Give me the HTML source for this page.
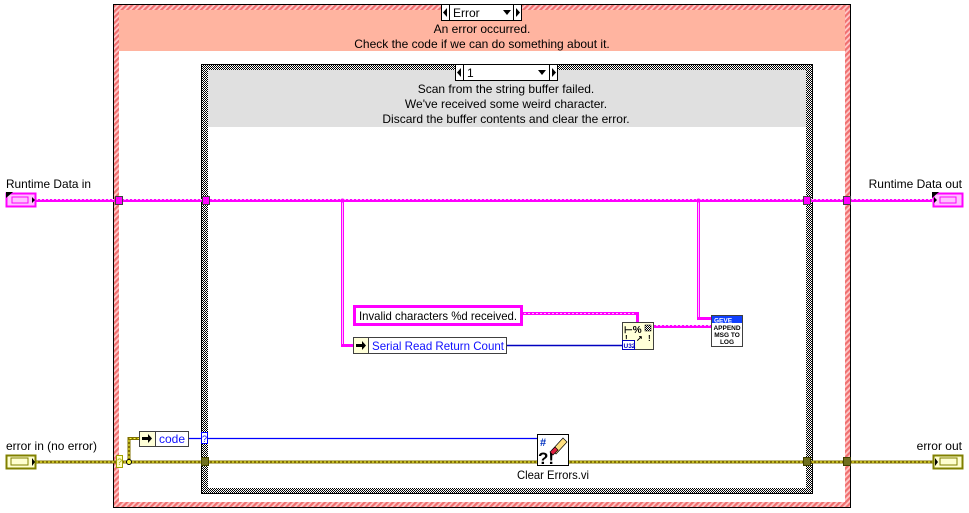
<!DOCTYPE html>
<html><head><meta charset="utf-8"><style>
html,body{margin:0;padding:0;background:#fff;}
svg{display:block;font-family:"Liberation Sans",sans-serif;}
</style></head><body>
<svg width="969" height="513" viewBox="0 0 969 513" xmlns="http://www.w3.org/2000/svg">
<defs>
<pattern id="hatch" width="4" height="4" patternUnits="userSpaceOnUse" patternTransform="rotate(45)">
<rect width="4" height="4" fill="#ffc8c8"/><rect width="2.2" height="4" fill="#f07070"/>
</pattern>
<pattern id="check" width="2" height="2" patternUnits="userSpaceOnUse">
<rect width="2" height="2" fill="#fff"/><rect width="1" height="1" fill="#000"/><rect x="1" y="1" width="1" height="1" fill="#000"/>
</pattern>
<pattern id="pinkw" width="4" height="3" patternUnits="userSpaceOnUse">
<rect width="4" height="3" fill="#ff00ff"/><rect x="0" y="1" width="2" height="1" fill="#ffc0ff"/>
</pattern>
</defs>
<!-- outer case -->
<rect x="113" y="4" width="738" height="504" fill="#000"/>
<rect x="114" y="5" width="736" height="502" fill="url(#hatch)"/>
<rect x="119" y="10" width="726" height="492" fill="#fff"/>
<rect x="119" y="10" width="726" height="41" fill="#ffb4a0"/>
<!-- outer selector -->
<rect x="441.5" y="4.5" width="80" height="16" fill="#fff" stroke="#000"/>
<line x1="449.5" y1="4" x2="449.5" y2="21" stroke="#000"/>
<line x1="513.5" y1="4" x2="513.5" y2="21" stroke="#000"/>
<polygon points="447,8 447,17 443,12.5" fill="#000"/>
<polygon points="516,8 516,17 520,12.5" fill="#000"/>
<polygon points="503,10 511,10 507,15" fill="#000"/>
<text x="453" y="17" font-size="12">Error</text>
<text x="482" y="33" font-size="12" text-anchor="middle">An error occurred.</text>
<text x="482" y="48" font-size="12" text-anchor="middle">Check the code if we can do something about it.</text>
<!-- inner case -->
<rect x="201" y="64" width="612" height="430" fill="#000"/>
<rect x="202" y="65" width="610" height="428" fill="url(#check)"/>
<rect x="208" y="70" width="598" height="418" fill="#fff"/>
<rect x="208" y="70" width="598" height="57" fill="#e0e0e0"/>
<rect x="455.5" y="64.5" width="102" height="16" fill="#fff" stroke="#000"/>
<line x1="463.5" y1="64" x2="463.5" y2="81" stroke="#000"/>
<line x1="549.5" y1="64" x2="549.5" y2="81" stroke="#000"/>
<polygon points="461,68 461,77 457,72.5" fill="#000"/>
<polygon points="552,68 552,77 556,72.5" fill="#000"/>
<polygon points="538,70 546,70 542,75" fill="#000"/>
<text x="467" y="77" font-size="12">1</text>
<text x="506" y="93" font-size="12" text-anchor="middle">Scan from the string buffer failed.</text>
<text x="506" y="108" font-size="12" text-anchor="middle">We've received some weird character.</text>
<text x="506" y="123" font-size="12" text-anchor="middle">Discard the buffer contents and clear the error.</text>
<!-- pink wires -->
<rect x="36" y="199" width="896" height="3" fill="url(#pinkw)"/>
<rect x="341" y="200" width="3" height="147" fill="#ff00ff"/>
<rect x="342" y="200" width="1" height="147" fill="#ffc0ff"/>
<rect x="341" y="344" width="12" height="3" fill="#ff00ff"/>
<rect x="697" y="200" width="3" height="120" fill="#ff00ff"/>
<rect x="698" y="200" width="1" height="120" fill="#ffc0ff"/>
<rect x="697" y="317" width="14" height="3" fill="#ff00ff"/>
<rect x="522" y="312" width="117" height="3" fill="url(#pinkw)"/>
<rect x="636" y="312" width="3" height="10" fill="#ff00ff"/>
<rect x="653" y="325" width="58" height="3" fill="url(#pinkw)"/>
<circle cx="342.5" cy="200.5" r="2" fill="#ff00ff"/>
<circle cx="698.5" cy="200.5" r="2" fill="#ff00ff"/>
<!-- pink tunnels -->
<rect x="115.5" y="196.5" width="7" height="8" fill="#ff00ff" stroke="#404040"/>
<rect x="202.5" y="196.5" width="7" height="8" fill="#ff00ff" stroke="#404040"/>
<rect x="803.5" y="196.5" width="7" height="8" fill="#ff00ff" stroke="#404040"/>
<rect x="843.5" y="196.5" width="7" height="8" fill="#ff00ff" stroke="#404040"/>
<!-- runtime terminals -->
<text x="6" y="188" font-size="12" textLength="85" lengthAdjust="spacingAndGlyphs">Runtime Data in</text>
<rect x="6.5" y="193.5" width="29" height="13" fill="#ffc0ff" stroke="#ff00ff" stroke-width="2"/>
<rect x="12" y="197" width="16" height="6" fill="none" stroke="#ff00ff"/>
<polygon points="6,192 13,192 6,198" fill="#000"/>
<polygon points="32,197 35,200 32,203" fill="#000"/>
<text x="962" y="188" font-size="12" text-anchor="end">Runtime Data out</text>
<rect x="933.5" y="193.5" width="29" height="13" fill="#ffc0ff" stroke="#ff00ff" stroke-width="2"/>
<rect x="940" y="197" width="16" height="6" fill="none" stroke="#ff00ff"/>
<polygon points="932,192 939,192 932,198" fill="#000"/>
<polygon points="934,197 937,200 934,203" fill="#000"/>
<!-- string constant -->
<rect x="354.5" y="306.5" width="167" height="18" fill="#fff" stroke="#ff00ff" stroke-width="3"/>
<text x="359" y="320" font-size="12" textLength="158" lengthAdjust="spacingAndGlyphs">Invalid characters %d received.</text>
<!-- serial read unbundle -->
<rect x="353.5" y="337.5" width="15" height="16" fill="#ffffd8" stroke="#404040"/>
<polygon points="356,344 362,344 362,341 366,345.5 362,350 362,347 356,347" fill="#000"/>
<rect x="368.5" y="337.5" width="138" height="16" fill="#fff" stroke="#404040"/>
<text x="372" y="350" font-size="12" fill="#1010ff" textLength="132" lengthAdjust="spacingAndGlyphs">Serial Read Return Count</text>
<line x1="507" y1="345.5" x2="622" y2="345.5" stroke="#0000c0" stroke-width="1.5"/>
<!-- format node -->
<rect x="622.5" y="322.5" width="31" height="27" fill="#ffffd8" stroke="#404040"/>
<text x="624" y="333" font-size="10" font-weight="bold">⊢%</text>
<rect x="645" y="325" width="6" height="6" fill="url(#check)" stroke="#000" stroke-width="0.5"/>
<text x="625" y="341" font-size="8" font-weight="bold">!</text>
<text x="636" y="341" font-size="8" font-weight="bold">↗</text>
<text x="648" y="341" font-size="8" font-weight="bold">!</text>
<rect x="622.5" y="340.5" width="12" height="9" fill="#fff" stroke="#0000c0"/>
<text x="623.5" y="348" font-size="6.5" fill="#0000c0" font-weight="bold">U32</text>
<!-- append node -->
<rect x="711.5" y="315.5" width="31" height="31" fill="#fff" stroke="#404040"/>
<rect x="712" y="316" width="30" height="7" fill="#1040ff"/>
<text x="714" y="322.5" font-size="6.5" fill="#fff" font-weight="bold">GEVE</text>
<text x="727" y="330" font-size="6.5" text-anchor="middle" font-weight="bold">APPEND</text>
<text x="727" y="337" font-size="6.5" text-anchor="middle" font-weight="bold">MSG TO</text>
<text x="727" y="344" font-size="6.5" text-anchor="middle" font-weight="bold">LOG</text>
<!-- error wires -->
<line x1="36" y1="462" x2="933" y2="462" stroke="#807000" stroke-width="3"/>
<line x1="36" y1="462" x2="933" y2="462" stroke="#ffff40" stroke-width="1" stroke-dasharray="2,2"/>
<polyline points="129,462 129,438.5 139,438.5" fill="none" stroke="#807000" stroke-width="3"/>
<polyline points="129,462 129,438.5 139,438.5" fill="none" stroke="#ffff40" stroke-width="1" stroke-dasharray="2,2"/>
<circle cx="129" cy="462" r="2.5" fill="#ffff40" stroke="#000"/>
<line x1="188" y1="438.5" x2="537" y2="438.5" stroke="#0000ff" stroke-width="1.2"/>
<!-- unbundle code -->
<rect x="139.5" y="431.5" width="16" height="15" fill="#ffffd8" stroke="#404040"/>
<polygon points="142,437 148,437 148,434 152,438.5 148,443 148,440 142,440" fill="#000"/>
<rect x="155.5" y="431.5" width="33" height="15" fill="#fff" stroke="#404040"/>
<text x="159" y="443" font-size="12" fill="#1010ff">code</text>
<rect x="201.5" y="432.5" width="6" height="11" fill="#fff" stroke="#0000ff"/>
<text x="202" y="442" font-size="9" fill="#0000ff">?</text>
<rect x="116.5" y="455.5" width="6" height="12" fill="#ffffc0" stroke="#a0a000"/>
<text x="117" y="465" font-size="9" fill="#a0a000">?</text>
<!-- olive tunnels -->
<rect x="201.5" y="457.5" width="7" height="8" fill="#707020" stroke="#404000"/>
<rect x="803.5" y="457.5" width="7" height="8" fill="#707020" stroke="#404000"/>
<rect x="843.5" y="457.5" width="7" height="8" fill="#707020" stroke="#404000"/>
<!-- clear errors -->
<rect x="537.5" y="434.5" width="31" height="31" fill="#fff" stroke="#000"/>
<text x="540" y="446" font-size="11" fill="#0030c0" font-weight="bold">#</text>
<text x="538" y="464" font-size="17" font-weight="bold">?!</text>
<polygon points="552,450 563,438 567,442 556,454" fill="#ffe080" stroke="#000" stroke-width="0.7"/>
<polygon points="550,452 555,447 558,450 553,455" fill="#e02040" stroke="#000" stroke-width="0.7"/>
<text x="553" y="479" font-size="12" text-anchor="middle" textLength="72" lengthAdjust="spacingAndGlyphs">Clear Errors.vi</text>
<!-- error terminals -->
<text x="6" y="450" font-size="12" textLength="91" lengthAdjust="spacingAndGlyphs">error in (no error)</text>
<rect x="6.5" y="455.5" width="29" height="13" fill="#ffffd0" stroke="#808000" stroke-width="2"/>
<rect x="11" y="458" width="17" height="7" fill="none" stroke="#808000"/>
<polygon points="32,458 35,462 32,466" fill="#000"/>
<text x="962" y="450" font-size="12" text-anchor="end">error out</text>
<rect x="933.5" y="455.5" width="29" height="13" fill="#ffffd0" stroke="#808000" stroke-width="2"/>
<rect x="940" y="458" width="17" height="7" fill="none" stroke="#808000"/>
<polygon points="935,458 938,462 935,466" fill="#000"/>
</svg>
</body></html>
